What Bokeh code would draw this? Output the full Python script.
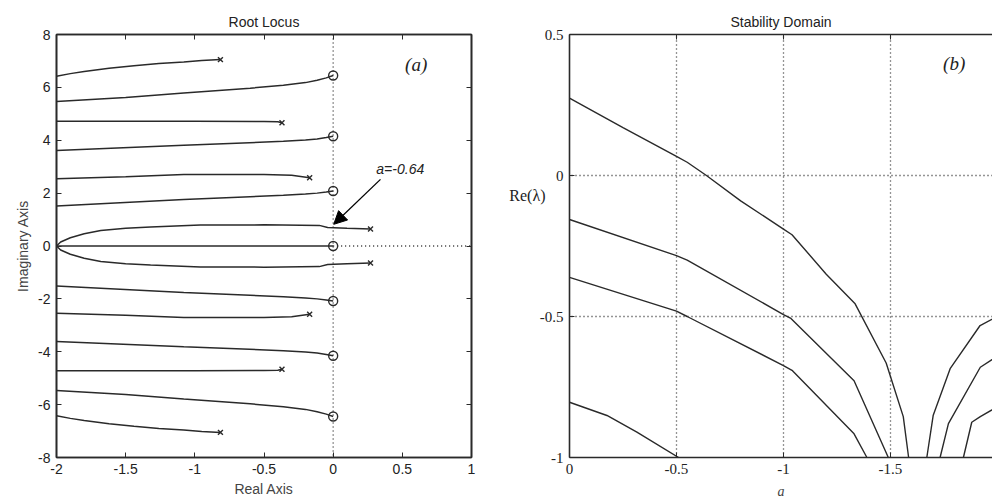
from bokeh.plotting import figure
from bokeh.layouts import row
from bokeh.models import (Range1d, FixedTicker, LinearAxis, Arrow, NormalHead,
                          Label, Span)
from bokeh.embed import file_html
from bokeh.resources import INLINE

# ---------------- Root locus data (upper half-plane; lower half is conjugate) ----------------
b1_x = [-2.0, -1.9, -1.8, -1.62, -1.44, -1.26, -1.08, -0.95, -0.815]
b1_y = [6.42, 6.52, 6.60, 6.72, 6.82, 6.90, 6.96, 7.02, 7.05]
b2_x = [-2.0, -1.5, -1.08, -0.6, -0.36, -0.2, -0.116, -0.05, 0.0]
b2_y = [5.47, 5.62, 5.79, 5.97, 6.08, 6.18, 6.27, 6.36, 6.45]
b3_x = [-2.0, -1.0, -0.5, -0.4, -0.37]
b3_y = [4.72, 4.72, 4.71, 4.70, 4.66]
b4_x = [-2.0, -1.08, -0.36, -0.2, -0.116, -0.05, 0.0]
b4_y = [3.61, 3.81, 3.96, 4.01, 4.05, 4.10, 4.15]
b5_x = [-2.0, -1.5, -1.08, -0.5, -0.3, -0.17]
b5_y = [2.54, 2.62, 2.70, 2.70, 2.68, 2.58]
b6_x = [-2.0, -1.08, -0.36, -0.2, -0.116, -0.05, 0.0]
b6_y = [1.51, 1.76, 1.92, 1.97, 2.00, 2.04, 2.08]
b7_x = [-2.0, -1.97, -1.9, -1.8, -1.68, -1.5, -1.32, -0.96, -0.5, -0.1, -0.04, 0.1, 0.27]
b7_y = [0.0, 0.15, 0.31, 0.46, 0.59, 0.67, 0.72, 0.79, 0.80, 0.78, 0.70, 0.67, 0.64]
real_x = [-2.0, 0.0]
real_y = [0.0, 0.0]

pole_branches = [(b1_x, b1_y), (b3_x, b3_y), (b5_x, b5_y), (b7_x, b7_y)]
zero_branches = [(b2_x, b2_y), (b4_x, b4_y), (b6_x, b6_y)]
zeros_x = [0.0, 0.0, 0.0, 0.0, 0.0, 0.0, 0.0]
zeros_y = [6.45, 4.15, 2.08, 0.0, -2.08, -4.15, -6.45]

# annotation of the crossing gain
crossing_label = "a=-0.64"
arrow_tail = (0.342, 2.52)
arrow_tip = (0.004, 0.82)

# ---------------- Stability domain data ----------------
cA_a = [0.0, -0.25, -0.5, -0.55, -0.64, -0.8, -1.0, -1.04, -1.2, -1.335, -1.48, -1.56, -1.585]
cA_y = [0.274, 0.17, 0.068, 0.047, 0.0, -0.09, -0.19, -0.21, -0.35, -0.455, -0.665, -0.855, -1.0]
cB_a = [0.0, -0.5, -0.55, -1.0, -1.035, -1.33, -1.49]
cB_y = [-0.156, -0.284, -0.30, -0.493, -0.507, -0.728, -1.0]
cC_a = [0.0, -0.5, -0.55, -1.0, -1.04, -1.33, -1.39]
cC_y = [-0.361, -0.481, -0.50, -0.674, -0.691, -0.916, -1.0]
cD_a = [0.0, -0.175, -0.315, -0.51]
cD_y = [-0.804, -0.851, -0.910, -1.0]
r1_a = [-1.67, -1.70, -1.779, -1.919, -2.0]
r1_y = [-1.0, -0.85, -0.685, -0.532, -0.50]
r2_a = [-1.732, -1.771, -1.92, -2.0]
r2_y = [-1.0, -0.88, -0.68, -0.64]
r3_a = [-1.841, -1.88, -1.92, -2.0]
r3_y = [-1.0, -0.875, -0.855, -0.82]

left_xticks = [-2, -1.5, -1, -0.5, 0, 0.5, 1]
left_xlabels = {-2: "-2", -1.5: "-1.5", -1: "-1", -0.5: "-0.5", 0: "0", 0.5: "0.5", 1: "1"}
left_yticks = [-8, -6, -4, -2, 0, 2, 4, 6, 8]
left_ylabels = {-8: "-8", -6: "-6", -4: "-4", -2: "-2", 0: "0", 2: "2", 4: "4", 6: "6", 8: "8"}
right_xticks = [0, -0.5, -1, -1.5, -2]
right_xlabels = {0: "0", -0.5: "-0.5", -1: "-1", -1.5: "-1.5", -2: "-2"}
right_yticks = [0.5, 0, -0.5, -1]
right_ylabels = {0.5: "0.5", 0: "0", -0.5: "-0.5", -1: "-1"}
re_label_pos = -0.07

INK = "#2a2a2a"
SANS = "Liberation Sans"
SERIF = "Liberation Serif"


def style_axis(ax, font, size, ticks, labels=None):
    ax.ticker = FixedTicker(ticks=ticks)
    ax.axis_line_color = INK
    ax.axis_line_width = 1.6
    ax.major_tick_line_color = INK
    ax.major_tick_in = 5
    ax.major_tick_out = 0
    ax.minor_tick_line_color = None
    ax.major_label_text_font = font
    ax.major_label_text_font_size = size
    ax.major_label_text_color = "#222222"
    ax.major_label_standoff = 6
    if labels is None:
        # tick marks only on the opposite sides of the box
        ax.major_label_overrides = {t: "" for t in ticks}
        ax.major_label_standoff = 0
    else:
        ax.major_label_overrides = labels


# ---------------- Left: root locus ----------------
p1 = figure(width=490, height=504, output_backend="svg", toolbar_location=None,
            x_range=Range1d(-2, 1), y_range=Range1d(-8, 8),
            min_border_left=56, min_border_right=19, min_border_top=33,
            min_border_bottom=47, x_axis_location=None, y_axis_location=None)
p1.grid.visible = False
p1.outline_line_color = INK
p1.outline_line_width = 1.6
p1.title.text = "Root Locus"
p1.title.align = "center"
p1.title.text_font = SANS
p1.title.text_font_style = "normal"
p1.title.text_font_size = "14px"
p1.title.text_color = "#222222"

for loc in ("below", "left", "above", "right"):
    ax = LinearAxis()
    horiz = loc in ("below", "above")
    ticks = left_xticks if horiz else left_yticks
    if loc == "below":
        style_axis(ax, SANS, "14px", ticks, left_xlabels)
        ax.axis_label = "Real Axis"
    elif loc == "left":
        style_axis(ax, SANS, "14px", ticks, left_ylabels)
        ax.axis_label = "Imaginary Axis"
    else:
        style_axis(ax, SANS, "14px", ticks)
    ax.axis_label_text_font = SANS
    ax.axis_label_text_font_style = "normal"
    ax.axis_label_text_font_size = "14px"
    ax.axis_label_standoff = 4
    p1.add_layout(ax, loc)

# dotted axes lines through the origin
p1.add_layout(Span(location=0, dimension="height", line_color=INK,
                   line_dash="1 3", line_width=1.3))
p1.line([0, 1], [0, 0], line_color=INK, line_dash="1 3", line_width=1.3)

for bx, by in pole_branches + zero_branches:
    p1.line(bx, by, line_color=INK, line_width=1.5)
    p1.line(bx, [-v for v in by], line_color=INK, line_width=1.5)
p1.line(real_x, real_y, line_color=INK, line_width=1.5)

pole_x = [b[0][-1] for b in pole_branches] * 2
pole_y = [b[1][-1] for b in pole_branches] + [-b[1][-1] for b in pole_branches]
p1.scatter(pole_x, pole_y, marker="x", size=7, line_color=INK, line_width=1.4)
p1.scatter(zeros_x, zeros_y, marker="circle", size=9, fill_color=None,
           line_color=INK, line_width=1.4)

p1.add_layout(Arrow(end=NormalHead(size=13, fill_color="black", line_color="black"),
                    x_start=arrow_tail[0], y_start=arrow_tail[1],
                    x_end=arrow_tip[0], y_end=arrow_tip[1],
                    line_color="black", line_width=1.3))
p1.add_layout(Label(x=arrow_tail[0] - 0.03, y=arrow_tail[1] + 0.38, text=crossing_label,
                    text_font=SANS, text_font_style="italic", text_font_size="14px",
                    text_baseline="middle", text_color="#222222"))
p1.add_layout(Label(x=0.6, y=6.87, text="(a)", text_font=SERIF, text_font_style="italic",
                    text_font_size="19px", text_align="center", text_baseline="middle",
                    text_color="#222222"))

# ---------------- Right: stability domain ----------------
p2 = figure(width=502, height=504, output_backend="svg", toolbar_location=None,
            x_range=Range1d(0, -1.977), y_range=Range1d(-1, 0.5),
            min_border_left=79, min_border_right=0, min_border_top=34,
            min_border_bottom=47, x_axis_location=None, y_axis_location=None)
p2.outline_line_color = None
p2.title.text = "Stability Domain"
p2.title.align = "center"
p2.title.text_font = SANS
p2.title.text_font_style = "normal"
p2.title.text_font_size = "14px"
p2.title.text_color = "#222222"

ax_b = LinearAxis()
style_axis(ax_b, SERIF, "15px", right_xticks, right_xlabels)
ax_b.axis_label = "a"
ax_b.axis_label_text_font = SERIF
ax_b.axis_label_text_font_style = "italic"
ax_b.axis_label_text_font_size = "14px"
ax_b.axis_label_standoff = 7
p2.add_layout(ax_b, "below")

ax_l = LinearAxis()
style_axis(ax_l, SERIF, "15px", right_yticks, right_ylabels)
p2.add_layout(ax_l, "left")

# horizontal quantity label, sitting just below the zero level
ax_q = LinearAxis(ticker=FixedTicker(ticks=[re_label_pos]),
                  major_label_overrides={re_label_pos: "Re(λ)"})
ax_q.axis_line_color = None
ax_q.major_tick_line_color = None
ax_q.minor_tick_line_color = None
ax_q.major_label_standoff = -15
ax_q.major_label_text_font = SERIF
ax_q.major_label_text_font_size = "16px"
ax_q.major_label_text_color = "#222222"
p2.add_layout(ax_q, "left")

ax_t = LinearAxis()
style_axis(ax_t, SERIF, "15px", right_xticks)
p2.add_layout(ax_t, "above")

p2.xgrid.ticker = FixedTicker(ticks=[-0.5, -1, -1.5])
p2.ygrid.ticker = FixedTicker(ticks=[0, -0.5])
p2.grid.grid_line_color = INK
p2.grid.grid_line_dash = "1 3"
p2.grid.grid_line_width = 1.3
p2.grid.grid_line_alpha = 1.0

for ca, cy in [(cA_a, cA_y), (cB_a, cB_y), (cC_a, cC_y), (cD_a, cD_y),
               (r1_a, r1_y), (r2_a, r2_y), (r3_a, r3_y)]:
    p2.line(ca, cy, line_color=INK, line_width=1.4)

p2.add_layout(Label(x=-1.798, y=0.397, text="(b)", text_font=SERIF,
                    text_font_style="italic", text_font_size="19px", text_align="center",
                    text_baseline="middle", text_color="#222222"))

layout = row(p1, p2)
open("out.html", "w").write(file_html(layout, INLINE))
